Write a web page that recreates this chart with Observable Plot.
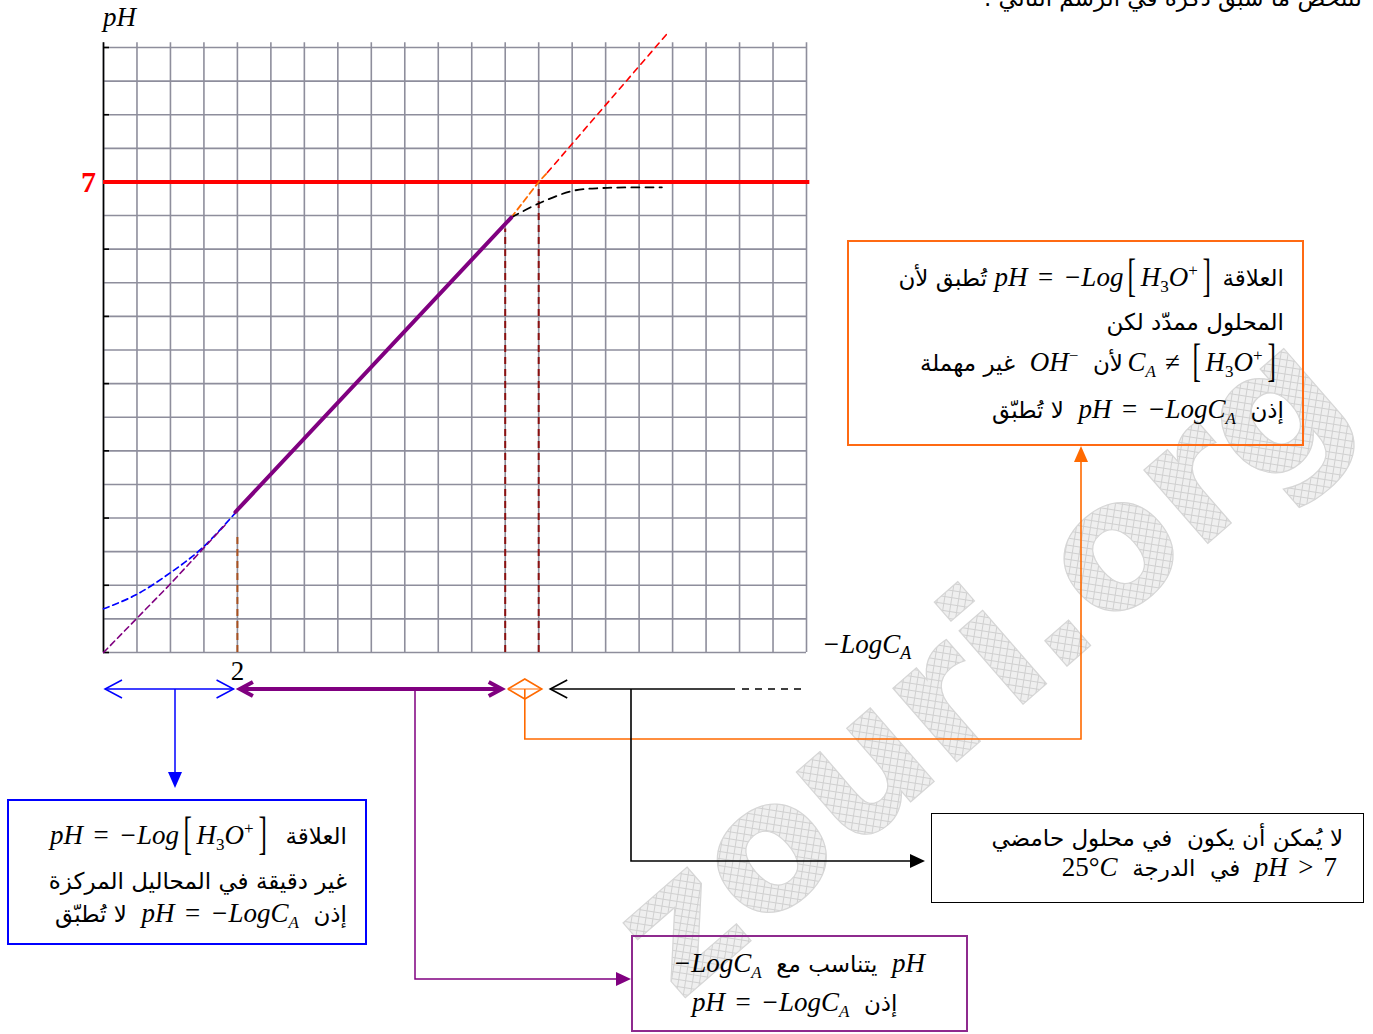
<!DOCTYPE html>
<html><head><meta charset="utf-8">
<script src="https://cdn.jsdelivr.net/npm/d3@7"></script>
<script src="https://cdn.jsdelivr.net/npm/@observablehq/plot@0.6"></script>
<style>
body{margin:0;background:#fff;}
#wrap{position:relative;width:1373px;height:1034px;overflow:hidden;background:#fff;}
#wrap svg{position:absolute;left:0;top:0;}
.box{position:absolute;box-sizing:border-box;}
.ln{position:absolute;direction:rtl;white-space:nowrap;font-family:"DejaVu Sans",sans-serif;font-size:23px;line-height:30px;height:30px;color:#000;}
.m{font-family:"Liberation Serif",serif;font-style:italic;font-size:27px;unicode-bidi:isolate;direction:ltr;display:inline-block;word-spacing:2px;}
.m sub,.m sup{font-size:17px;line-height:0;}
.m .up{font-style:normal;}
.br{font-family:"Liberation Serif",serif;font-style:normal;font-weight:100;font-size:46px;line-height:0;display:inline-block;transform:scaleX(0.55);vertical-align:-5px;margin:0 1px;}
.lab{position:absolute;white-space:nowrap;}
</style>
</head><body>
<div id="wrap"></div>
<script>
// ---------- data ----------
const xGridValues = [0,0.5,1,1.5,2,2.5,3,3.5,4,4.5,5,5.5,6,6.5,7,7.5,8,8.5,9,9.5,10,10.5];
const yGridValues = [0,0.5,1,1.5,2,2.5,3,3.5,4,4.5,5,5.5,6,6.5,7,7.5,8,8.5,9];
const yTickValues = [0,1,2,3,4,5,6,7,8,9];
const neutralPH = [7];
const xTickLabel = [2];

// blue dashed: pH = -log[H3O+] (concentrated solutions)
const blueX = [0, 0.47, 0.99, 1.47, 1.99];
const blueY = [0.65, 0.85, 1.18, 1.55, 2.1];
// purple dashed: ideal pH = -log C at high concentration
const purpleDashX = [0, 0.98, 1.82];
const purpleDashY = [0, 1.0, 1.9];
// purple solid: pH = -log C valid region
const purpleX = [1.97, 6.09];
const purpleY = [2.09, 6.47];
// orange dashed continuation
const orangeX = [6.09, 6.5, 6.63];
const orangeY = [6.47, 7.0, 7.14];
// red dashed continuation (pH > 7 impossible)
const redX = [6.63, 8.44];
const redY = [7.14, 9.23];
// black dashed: real curve for very dilute solutions
const blackX = [6.09, 6.5, 7.02, 7.47, 8.34];
const blackY = [6.47, 6.68, 6.87, 6.91, 6.92];
// vertical reference dashes
const dropX = [2, 6.0, 6.5];
const dropTop = [1.72, 6.3, 7.0];
const dropColor = ["#a8501e", "#8b1010", "#8b1010"];

// ---------- plot ----------
const W = 1373, H = 1034;
const grid = "#8e8e9c";
const plot = Plot.plot({
  width: W, height: H,
  marginLeft: 103, marginRight: 567, marginTop: 47, marginBottom: 382,
  x: {domain: [0, 10.5], axis: null},
  y: {domain: [0, 9], axis: null},
  style: {background: "transparent", overflow: "visible"},
  marks: [
    Plot.ruleX(xGridValues, {x: d => d, y1: 0, y2: 9.07, stroke: grid, strokeWidth: 1.6}),
    Plot.ruleY(yGridValues, {y: d => d, x1: 0, x2: 10.5, stroke: grid, strokeWidth: 1.6}),
    Plot.ruleX([0], {y1: 0, y2: 9.07, stroke: "#000", strokeWidth: 1.6}),
    Plot.ruleY(yTickValues, {y: d => d, x1: 0, x2: 0.09, stroke: "#000", strokeWidth: 1.6}),
    Plot.ruleY(neutralPH, {y: d => d, x1: 0, x2: 10.55, stroke: "#ff0000", strokeWidth: 4}),
    Plot.ruleX(dropX, {x: d => d, y1: 0, y2: dropTop, stroke: dropColor, strokeWidth: 2, strokeDasharray: "7,5"}),
    Plot.line(blueX, {x: blueX, y: blueY, stroke: "#0000ff", strokeWidth: 1.7, strokeDasharray: "6,4", curve: "catmull-rom"}),
    Plot.line(purpleDashX, {x: purpleDashX, y: purpleDashY, stroke: "#800080", strokeWidth: 1.6, strokeDasharray: "6,4"}),
    Plot.line(redX, {x: redX, y: redY, stroke: "#ff0000", strokeWidth: 1.6, strokeDasharray: "6,5"}),
    Plot.line(orangeX, {x: orangeX, y: orangeY, stroke: "#ff6a00", strokeWidth: 1.8, strokeDasharray: "6,4"}),
    Plot.line(blackX, {x: blackX, y: blackY, stroke: "#000", strokeWidth: 1.8, strokeDasharray: "8,6", curve: "catmull-rom"}),
    Plot.line(purpleX, {x: purpleX, y: purpleY, stroke: "#800080", strokeWidth: 4}),
    Plot.text(neutralPH, {x: 0, y: d => d, text: d => String(d), dx: -15, fill: "#ff0000", fontSize: 30, fontWeight: "bold", fontFamily: "Liberation Serif", textAnchor: "middle"}),
    Plot.text(xTickLabel, {x: d => d, y: 0, text: d => String(d), dy: 19, fontSize: 27, fontFamily: "Liberation Serif", textAnchor: "middle", fill: "#000"})
  ]
});

const wrap = document.getElementById("wrap");

// watermark behind everything
const wm = d3.create("svg").attr("width", W).attr("height", H);
const defs = wm.append("defs");
const pat = defs.append("pattern").attr("id","hatch").attr("patternUnits","userSpaceOnUse").attr("width",7).attr("height",7)
  .attr("patternTransform","rotate(-40)");
pat.append("rect").attr("width",7).attr("height",7).attr("fill","#efefef");
pat.append("path").attr("d","M0 0.5H7M0.5 0V7").attr("stroke","#d0d0d0").attr("stroke-width",1);
const g = wm.append("g").attr("transform","translate(1060,672) rotate(-41)");
const wmFont = {family: "DejaVu Sans", size: 178};
g.append("text").attr("x",-3).attr("y",0).attr("text-anchor","end").attr("font-family",wmFont.family).attr("font-weight","bold")
  .attr("font-size",wmFont.size).attr("fill","url(#hatch)").attr("stroke","#d6d6d6").attr("stroke-width",1.2).text("zouri");
g.append("text").attr("x",-9).attr("y",0).attr("text-anchor","start").attr("font-family",wmFont.family).attr("font-weight","bold")
  .attr("font-size",wmFont.size).attr("fill","url(#hatch)").attr("stroke","#d6d6d6").attr("stroke-width",1.2).text(".org");
wrap.appendChild(wm.node());
wrap.appendChild(plot);

// ---------- annotation arrows ----------
const xs = plot.scale("x"), ys = plot.scale("y");
const X = v => xs.apply(v);
const rowY = ys.apply(0) + 37;
const ann = d3.select(plot);
const a = ann.append("g").attr("fill","none");
function line(pts, color, w, dash){
  a.append("path").attr("d", d3.line()(pts)).attr("stroke", color).attr("stroke-width", w)
   .attr("stroke-dasharray", dash || null).attr("stroke-linejoin","miter");
}
function tri(pts, color){ a.append("path").attr("d", d3.line()(pts) + "Z").attr("fill", color).attr("stroke","none"); }

// blue double arrow (0 -> 2)
const bL = X(0) + 2, bR = X(1.95);
line([[bL,rowY],[bR,rowY]], "#0000ff", 1.5);
line([[bL+17,rowY-9],[bL,rowY],[bL+17,rowY+9]], "#0000ff", 1.5);
line([[bR-17,rowY-9],[bR,rowY],[bR-17,rowY+9]], "#0000ff", 1.5);
const bM = 175;
line([[bM,rowY],[bM,774]], "#0000ff", 1.5);
tri([[bM-7,772],[bM+7,772],[bM,788]], "#0000ff");

// purple double arrow (2 -> 6)
const pL = X(2) + 3, pR = X(6) - 3;
line([[pL,rowY],[pR,rowY]], "#800080", 4);
line([[pL+13,rowY-7],[pL,rowY],[pL+13,rowY+7]], "#800080", 4);
line([[pR-13,rowY-7],[pR,rowY],[pR-13,rowY+7]], "#800080", 4);
line([[415,rowY],[415,979],[618,979]], "#800080", 1.5);
tri([[616,972],[616,986],[631,979]], "#800080");

// orange diamond (6 -> 6.5)
const oC = (X(6.05) + X(6.55)) / 2;
line([[oC-17,rowY],[oC,rowY-10],[oC+17,rowY],[oC,rowY+10],[oC-17,rowY]], "#ff6a00", 1.6);
line([[oC-17,rowY],[oC+17,rowY]], "#ff6a00", 1.2);
line([[oC,rowY],[oC,739],[1081,739],[1081,460]], "#ff6a00", 1.6);
tri([[1074,462],[1088,462],[1081,446]], "#ff6a00");

// black arrow (> 6.5)
const kL = X(6.68);
line([[kL,rowY],[735,rowY]], "#000", 1.6);
line([[742,rowY],[802,rowY]], "#000", 1.6, "7,6");
line([[kL+17,rowY-9],[kL,rowY],[kL+17,rowY+9]], "#000", 1.6);
line([[631,rowY],[631,861],[912,861]], "#000", 1.6);
tri([[910,854],[910,868],[925,861]], "#000");

// ---------- text (HTML) ----------
function el(html, cls, style){
  const d = document.createElement("div"); d.className = cls; d.innerHTML = html;
  Object.assign(d.style, style); wrap.appendChild(d); return d;
}
function box(l,t,w,h,border){ el("", "box", {left:l+"px",top:t+"px",width:w+"px",height:h+"px",border:border}); }
function rline(html, right, cy, extra){ return el(html, "ln", Object.assign({right:(W-right)+"px", top:(cy-15)+"px"}, extra||{})); }
function cline(html, cx, cy){ const d = el(html, "ln", {left:"0px", top:(cy-15)+"px"}); d.style.left = (cx - d.offsetWidth/2) + "px"; return d; }

const mH3O = '<span class="br">[</span>H<sub class="up">3</sub>O<sup class="up">+</sup><span class="br">]</span>';
const mRel = '<span class="m">pH = −Log' + mH3O + '</span>';
const mLogC = '<span class="m">pH = −LogC<sub>A</sub></span>';

// axis labels
el('<span class="m" style="font-size:27px">pH</span>', "lab", {left:"103px", top:"2px"});
el('<span class="m" style="font-size:27px">−LogC<sub style="font-size:18px">A</sub></span>', "lab", {left:"822px", top:"629px"});

// top cut-off sentence
rline("لنلخص ما سبق ذكره في الرسم التالي .", 1362, -2);

// orange box
box(847, 240, 457, 206, "2px solid #ff6a13");
rline('العلاقة ' + mRel + ' تُطبق لأن', 1284, 277);
rline('المحلول ممدّد لكن', 1284, 322);
rline('<span class="m">C<sub>A</sub> ≠ ' + mH3O + '</span>&thinsp;لأن &nbsp;<span class="m">OH<sup class="up">−</sup></span>&nbsp; غير مهملة', 1280, 362);
rline('إذن &nbsp;' + mLogC + '&nbsp; لا تُطبّق', 1284, 409);

// blue box
box(7, 799, 360, 146, "2px solid #0000ff");
rline('العلاقة &nbsp;' + mRel, 347, 835);
rline('غير دقيقة في المحاليل المركزة', 347, 881);
rline('إذن &nbsp;' + mLogC + '&nbsp; لا تُطبّق', 347, 913);

// black box
box(931, 813, 433, 90, "1.5px solid #000");
rline('لا يُمكن أن يكون &nbsp;في محلول حامضي', 1343, 838);
rline('<span class="m">pH &gt; <span class="up">7</span></span>&nbsp; في &nbsp;الدرجة &nbsp;<span class="m"><span class="up">25°</span>C</span>', 1337, 867);

// purple box
box(631, 935, 337, 97, "2px solid #8e2a8e");
cline('<span class="m">pH</span>&nbsp; يتناسب مع &nbsp;<span class="m">−LogC<sub>A</sub></span>', 799, 963);
cline('إذن &nbsp;' + mLogC, 795, 1002);
</script>
</body></html>
